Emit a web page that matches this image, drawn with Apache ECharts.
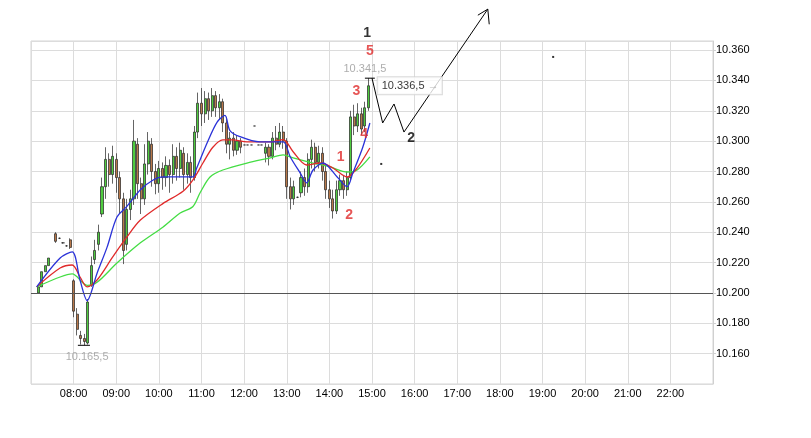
<!DOCTYPE html>
<html>
<head>
<meta charset="utf-8">
<title>Intraday 5 min</title>
<script src="https://cdn.jsdelivr.net/npm/echarts@6/dist/echarts.min.js"></script>
<style>
html, body { margin: 0; padding: 0; background: #fff; }
#main { width: 811px; height: 438px; }
</style>
</head>
<body>
<div id="main"></div>
<script>
// 5 min bars
var barTimes = ['07:10','07:15','07:20','07:25','07:35','07:40','07:45','07:50','07:55',
  '08:00','08:05','08:10','08:15','08:20','08:25','08:30','08:35','08:40','08:45','08:50','08:55',
  '09:00','09:05','09:10','09:15','09:20','09:25','09:30','09:35','09:40','09:45','09:50','09:55',
  '10:00','10:05','10:10','10:15','10:20','10:25','10:30','10:35','10:40','10:45','10:50','10:55',
  '11:00','11:05','11:10','11:15','11:20','11:25','11:30','11:35','11:40','11:45','11:50','11:55',
  '12:00','12:05','12:10','12:15','12:20','12:25',
  '12:30','12:35','12:40','12:45','12:50','12:55',
  '13:00','13:05','13:10','13:15','13:20','13:25','13:30','13:35','13:40','13:45','13:50','13:55',
  '14:00','14:05','14:10','14:15','14:20','14:25','14:30','14:35','14:40','14:45','14:50','14:55'];
var barOpen = [10.200,10.204,10.214,10.218,10.239,10.236,10.233,10.231,10.235,
  10.208,10.186,10.172,10.170,10.167,10.205,10.222,10.232,10.252,10.270,10.288,10.278,
  10.288,10.276,10.262,10.232,10.255,10.262,10.298,10.272,10.262,10.285,10.298,10.280,
  10.272,10.282,10.276,10.284,10.278,10.290,10.282,10.292,10.278,10.286,10.276,10.306,
  10.325,10.318,10.328,10.320,10.330,10.322,10.326,10.312,10.298,10.302,10.294,10.300,
  10.2975,10.2975,10.2975,10.310,10.2975,10.2975,
  10.292,10.296,10.290,10.302,10.298,10.306,
  10.300,10.270,10.262,10.263,10.266,10.276,10.270,10.288,10.296,10.286,10.292,10.280,
  10.268,10.262,10.254,10.268,10.274,10.268,10.276,10.316,10.310,10.318,10.310,10.322];
var barClose = [10.204,10.214,10.218,10.223,10.234,10.236,10.233,10.231,10.230,
  10.188,10.176,10.170,10.168,10.194,10.218,10.228,10.240,10.270,10.288,10.278,10.290,
  10.276,10.262,10.228,10.255,10.262,10.300,10.272,10.262,10.285,10.300,10.280,10.272,
  10.282,10.276,10.284,10.278,10.290,10.282,10.294,10.278,10.286,10.276,10.306,10.325,
  10.318,10.328,10.320,10.330,10.322,10.326,10.312,10.298,10.302,10.294,10.300,10.296,
  10.2975,10.2975,10.2975,10.310,10.2975,10.2975,
  10.296,10.290,10.302,10.298,10.306,10.300,
  10.270,10.262,10.270,10.263,10.276,10.270,10.288,10.296,10.286,10.292,10.280,10.268,
  10.262,10.254,10.268,10.274,10.268,10.276,10.316,10.310,10.318,10.308,10.322,10.3365];
var barLow = [10.200,10.204,10.214,10.218,10.233,10.2355,10.2325,10.2305,10.229,
  10.184,10.172,10.166,10.1655,10.166,10.204,10.219,10.228,10.250,10.262,10.270,10.272,
  10.266,10.252,10.219,10.228,10.248,10.258,10.262,10.252,10.258,10.278,10.270,10.265,
  10.266,10.268,10.270,10.266,10.272,10.274,10.276,10.268,10.272,10.266,10.274,10.302,
  10.310,10.312,10.314,10.316,10.316,10.314,10.306,10.292,10.288,10.290,10.291,10.292,
  10.2975,10.2975,10.2975,10.310,10.2975,10.2975,
  10.286,10.284,10.288,10.294,10.296,10.295,
  10.262,10.255,10.258,10.2625,10.263,10.264,10.266,10.282,10.280,10.282,10.274,10.262,
  10.256,10.249,10.252,10.264,10.262,10.264,10.274,10.304,10.306,10.304,10.306,10.320];
var barHigh = [10.204,10.214,10.218,10.223,10.240,10.2365,10.2335,10.2315,10.236,
  10.209,10.190,10.175,10.173,10.196,10.224,10.235,10.245,10.276,10.296,10.292,10.297,
  10.292,10.280,10.266,10.262,10.268,10.314,10.302,10.276,10.298,10.306,10.302,10.285,
  10.287,10.286,10.290,10.288,10.298,10.296,10.299,10.296,10.292,10.290,10.310,10.332,
  10.335,10.333,10.332,10.335,10.333,10.331,10.328,10.316,10.306,10.306,10.304,10.302,
  10.2975,10.2975,10.2975,10.310,10.2975,10.2975,
  10.299,10.298,10.306,10.310,10.312,10.310,
  10.302,10.276,10.274,10.2635,10.280,10.282,10.292,10.301,10.299,10.297,10.296,10.284,
  10.274,10.268,10.274,10.278,10.277,10.280,10.320,10.324,10.325,10.322,10.326,10.3415];

// moving averages
var maFastTimes = ['07:08','07:41','07:58','08:09','08:19','08:33','08:47','09:01','09:15','09:34','09:52','10:06','10:16','10:26','10:48','10:53','11:08','11:22','11:33','11:40','11:54','12:22','12:37','12:55','13:05','13:19','13:28','13:37','13:51','14:11','14:25','14:33','14:47','14:57'];
var maFastValues = [10.204,10.223,10.227,10.2085,10.195,10.213,10.230,10.250,10.257,10.268,10.2744,10.2765,10.2765,10.2765,10.2765,10.282,10.299,10.3126,10.317,10.307,10.303,10.2995,10.2995,10.2995,10.2896,10.279,10.2725,10.281,10.2856,10.2764,10.270,10.279,10.296,10.312];
var maMidTimes = ['07:08','07:41','07:58','08:09','08:19','08:33','08:55','09:15','09:34','10:06','10:34','10:48','11:02','11:16','11:30','11:44','12:04','12:37','12:55','13:09','13:28','13:47','14:05','14:25','14:39','14:57'];
var maMidValues = [10.204,10.2164,10.2184,10.2105,10.204,10.2085,10.2237,10.2369,10.248,10.259,10.267,10.2745,10.2856,10.296,10.3008,10.3008,10.2995,10.2995,10.301,10.293,10.2843,10.2856,10.2823,10.2764,10.2823,10.2955];
var maSlowTimes = ['07:08','07:41','07:58','08:19','08:33','09:01','09:34','10:06','10:30','10:48','10:58','11:12','11:30','12:04','12:37','12:55','13:09','13:37','14:01','14:25','14:39','14:57'];
var maSlowValues = [10.204,10.2105,10.2125,10.205,10.207,10.2197,10.233,10.2435,10.2527,10.257,10.266,10.2764,10.281,10.2856,10.289,10.291,10.289,10.2856,10.283,10.2797,10.281,10.2896];

// hand drawn wave count
var pathTimes = ['15:00','15:15','15:31','15:45','17:43'];
var pathValues = [10.3415,10.312,10.3245,10.306,10.387];
var arrowTimes = ['17:29','17:43','17:45'];
var arrowValues = [10.383,10.387,10.377];
var redWaveText = ['1','2','3','4','5'];
var redWaveTimes = ['14:16','14:28','14:38','14:49','14:57'];
var redWaveValues = [10.2896,10.2514,10.3331,10.3048,10.3594];
var blackWaveText = ['1','2'];
var blackWaveTimes = ['14:53','15:55'];
var blackWaveValues = [10.3713,10.302];
var dotTimes = ['15:13','19:15'];
var dotValues = [10.285,10.3555];

// extremes and last price
var lowTimes = ['08:06','08:23'];
var highTimes = ['14:50','15:04'];
var lowValue = 10.1655;
var highValue = 10.3415;
var extremeText = ['10.165,5','10.341,5'];
var extremeTimes = ['08:19','14:50'];
var extremeValues = [10.1578,10.3476];
var lastTime = '15:08';
var lastValue = 10.3365;
var lastText = '10.336,5';
var baseLine = 10.200;

function hrs(s) {
  var p = s.split(':');
  return +p[0] + p[1] / 60;
}
function pairs(ts, vs) {
  return ts.map(function (t, i) { return [hrs(t), vs[i]]; });
}
function textSeries(times, values, texts, label) {
  return {
    type: 'scatter',
    symbolSize: 0,
    silent: true,
    clip: false,
    z: 10,
    data: times.map(function (t, i) {
      return { value: [hrs(t), values[i]], label: { formatter: texts[i] } };
    }),
    label: Object.assign({ show: true, position: 'inside' }, label)
  };
}
function plainLine(data, color, width, smooth) {
  return {
    type: 'line',
    data: data,
    symbol: 'none',
    smooth: smooth || false,
    clip: false,
    silent: true,
    lineStyle: { color: color, width: width }
  };
}

var candles = barTimes.map(function (t, i) {
  return [hrs(t), barOpen[i], barClose[i], barLow[i], barHigh[i]];
});

var font = 'Liberation Sans, Arial, sans-serif';
var myChart = echarts.init(document.getElementById('main'));

myChart.setOption({
  animation: false,
  backgroundColor: '#fff',
  grid: {
    left: 31, top: 41, right: 98, bottom: 54,
    show: true, borderColor: '#d4d4d4', borderWidth: 1
  },
  xAxis: {
    type: 'value',
    min: 7, max: 23, interval: 1,
    axisLine: { show: false },
    axisTick: { show: false },
    splitLine: { show: true, lineStyle: { color: '#dcdcdc' } },
    axisLabel: {
      color: '#000', fontSize: 11, fontFamily: font, margin: 4,
      showMinLabel: false, showMaxLabel: false,
      formatter: function (v) { return (v < 10 ? '0' : '') + v + ':00'; }
    }
  },
  yAxis: {
    type: 'value',
    position: 'right',
    min: 10.14, max: 10.366, interval: 0.02,
    scale: true,
    axisLine: { show: true, lineStyle: { color: '#d0d0d0' } },
    axisTick: { show: true, length: 3, lineStyle: { color: '#d0d0d0' } },
    splitLine: { show: true, lineStyle: { color: '#dcdcdc' } },
    axisLabel: {
      color: '#000', fontSize: 11, fontFamily: font, margin: 3,
      showMinLabel: false, showMaxLabel: false,
      formatter: function (v) { return v.toFixed(3); }
    }
  },
  series: [
    {
      type: 'candlestick',
      data: candles,
      encode: { x: 0, y: [1, 2, 3, 4] },
      barWidth: 2.6,
      itemStyle: {
        color: '#4fcc3f', color0: '#b8784a',
        borderColor: '#222', borderColor0: '#222', borderWidth: 0.7
      },
      markLine: {
        silent: true, symbol: 'none',
        label: { show: false },
        lineStyle: { color: '#555', type: 'solid', width: 1 },
        data: [{ yAxis: baseLine }]
      }
    },
    plainLine(pairs(maSlowTimes, maSlowValues), '#44dd44', 1.3, 0.3),
    plainLine(pairs(maMidTimes, maMidValues), '#e02a2a', 1.3, 0.3),
    plainLine(pairs(maFastTimes, maFastValues), '#2a32d8', 1.3, 0.3),
    // high / low markers
    plainLine(lowTimes.map(function (t) { return [hrs(t), lowValue]; }), '#000', 1),
    plainLine(highTimes.map(function (t) { return [hrs(t), highValue]; }), '#000', 1),
    // wave path and arrow head
    plainLine(pairs(pathTimes, pathValues), '#000', 1),
    plainLine(pairs(arrowTimes, arrowValues), '#000', 1),
    {
      type: 'scatter', symbol: 'rect', symbolSize: 2, silent: true, clip: false,
      itemStyle: { color: '#000' },
      data: pairs(dotTimes, dotValues)
    },
    textSeries(extremeTimes, extremeValues, extremeText,
      { color: '#999', fontSize: 11, fontFamily: font }),
    textSeries(redWaveTimes, redWaveValues, redWaveText,
      { color: '#e02a2a', fontSize: 14, fontWeight: 'bold', fontFamily: font }),
    textSeries(blackWaveTimes, blackWaveValues, blackWaveText,
      { color: '#000', fontSize: 14, fontWeight: 'bold', fontFamily: font }),
    // last price box
    {
      type: 'scatter', symbolSize: 0, silent: true, clip: false, z: 10,
      data: [[hrs(lastTime), lastValue]],
      label: {
        show: true, position: 'right', distance: 0,
        formatter: '{v|' + lastText + '} {a|\u2192}',
        backgroundColor: '#fff', borderColor: '#cfcfcf', borderWidth: 1,
        padding: [3, 3, 2, 4],
        rich: {
          v: { color: '#000', fontSize: 11, fontFamily: font },
          a: { color: '#aaa', fontSize: 11, fontWeight: 'bold', fontFamily: font }
        }
      }
    }
  ]
});
</script>
</body>
</html>
